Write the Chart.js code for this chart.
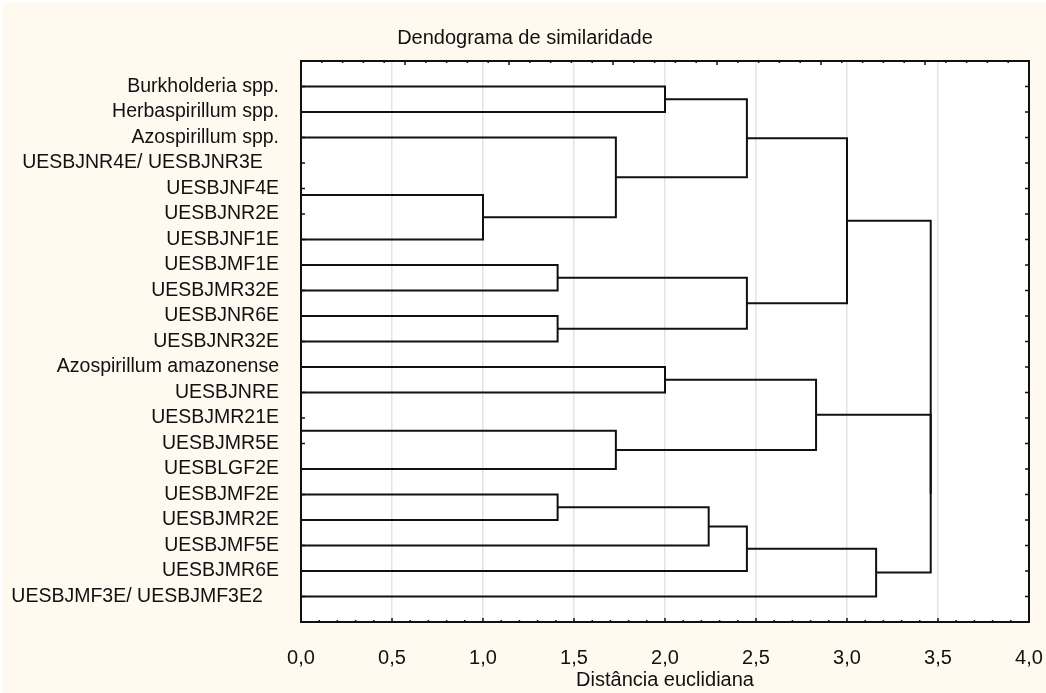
<!DOCTYPE html>
<html>
<head>
<meta charset="utf-8">
<script src="https://cdn.jsdelivr.net/npm/chart.js@4"></script>
<style>
  body { margin: 0; background: #ffffff; }
  #wrap { width: 1046px; height: 693px; }
</style>
</head>
<body>
<div id="wrap"><canvas id="dendro" width="1046" height="693"></canvas></div>
<script>
// Leaves, top to bottom (the two merged labels carry trailing blanks, as in the original)
const leafLabels = [
  'Burkholderia spp.', 'Herbaspirillum spp.', 'Azospirillum spp.',
  'UESBJNR4E/ UESBJNR3E   ', 'UESBJNF4E', 'UESBJNR2E', 'UESBJNF1E',
  'UESBJMF1E', 'UESBJMR32E', 'UESBJNR6E', 'UESBJNR32E',
  'Azospirillum amazonense', 'UESBJNRE', 'UESBJMR21E', 'UESBJMR5E',
  'UESBLGF2E', 'UESBJMF2E', 'UESBJMR2E', 'UESBJMF5E', 'UESBJMR6E',
  'UESBJMF3E/ UESBJMF3E2   '
];

// Linkage: merge i joins nodes mergeLeft[i] and mergeRight[i] at mergeHeight[i]
// nodes 0..20 are leaves, merge i creates node 21 + i
const mergeLeft   = [3, 21, 22, 2, 0, 25, 7, 9, 27, 26, 11, 13, 32, 31, 16, 35, 36, 37, 34, 30];
const mergeRight  = [4, 5, 6, 23, 1, 24, 8, 10, 28, 29, 12, 14, 15, 33, 17, 18, 19, 20, 38, 39];
const mergeHeight = [0, 0, 1.0, 1.73, 2.0, 2.45, 1.41, 1.41, 2.45, 3.0, 2.0, 0, 1.73, 2.83, 1.41, 2.24, 2.45, 3.16, 3.46, 3.46];

const xTicks = [0, 0.5, 1, 1.5, 2, 2.5, 3, 3.5, 4];

const FONT = "'Liberation Sans', Arial, sans-serif";
const INK = '#111111';

// position of each node: y = leaf row, x = merge height
const nodeY = leafLabels.map((_, i) => i + 1);
const nodeX = leafLabels.map(() => 0);
const links = [];
mergeLeft.forEach((a, i) => {
  const b = mergeRight[i], h = mergeHeight[i];
  links.push([
    { x: nodeX[a], y: nodeY[a] }, { x: h, y: nodeY[a] },
    { x: h, y: nodeY[b] }, { x: nodeX[b], y: nodeY[b] }
  ]);
  nodeY.push((nodeY[a] + nodeY[b]) / 2);
  nodeX.push(h);
});

const datasets = links.map(pts => ({
  data: pts,
  showLine: true,
  borderColor: INK,
  borderWidth: 2,
  pointRadius: 0,
  fill: false
}));

// background + frame with inner tick marks
const framePlugin = {
  id: 'frame',
  beforeDraw(chart) {
    const { ctx, chartArea: a } = chart;
    ctx.save();
    ctx.fillStyle = '#ffffff';
    ctx.fillRect(0, 0, chart.width, chart.height);
    ctx.fillStyle = '#fff9ef';
    ctx.fillRect(3, 3, chart.width - 3, chart.height - 3);
    ctx.fillStyle = '#ffffff';
    ctx.fillRect(a.left, a.top, a.right - a.left, a.bottom - a.top);
    ctx.restore();
  },
  afterDraw(chart) {
    const { ctx, chartArea: a, scales } = chart;
    ctx.save();
    ctx.strokeStyle = INK;
    ctx.lineWidth = 2;
    ctx.strokeRect(a.left, a.top, a.right - a.left, a.bottom - a.top);
    ctx.lineWidth = 1.5;
    ctx.beginPath();
    leafLabels.forEach((_, i) => {
      const y = scales.y.getPixelForValue(i + 1);
      ctx.moveTo(a.left, y); ctx.lineTo(a.left + 4, y);
      ctx.moveTo(a.right, y); ctx.lineTo(a.right - 4, y);
    });
    for (let k = 0; k <= 40; k++) {
      const x = scales.x.getPixelForValue(k / 10);
      ctx.moveTo(x, a.bottom); ctx.lineTo(x, a.bottom - (k % 5 === 0 ? 4 : 2));
    }
    for (let k = 0; k <= 35; k++) {
      const x = a.left + k * (a.right - a.left) / 35;
      ctx.moveTo(x, a.top); ctx.lineTo(x, a.top + (k % 5 === 0 ? 4 : 2));
    }
    ctx.stroke();
    ctx.restore();
  }
};

new Chart(document.getElementById('dendro'), {
  type: 'scatter',
  data: { datasets },
  plugins: [framePlugin],
  options: {
    responsive: false,
    animation: false,
    layout: { padding: { left: 4, right: 0, top: 0, bottom: 0 } },
    plugins: {
      legend: { display: false },
      tooltip: { enabled: false },
      title: {
        display: true,
        text: 'Dendograma de similaridade',
        color: INK,
        font: { family: FONT, size: 20, weight: 'normal' },
        padding: { top: 26, bottom: 11 }
      }
    },
    scales: {
      x: {
        type: 'linear',
        min: 0, max: 4,
        afterBuildTicks: s => { s.ticks = xTicks.map(v => ({ value: v })); },
        afterFit: s => { s.height = 71; s.paddingLeft = 0; s.paddingRight = 17; },
        grid: { color: '#e4e4e4', lineWidth: 1.5, drawTicks: false },
        border: { display: false },
        ticks: {
          color: INK,
          padding: 24,
          font: { family: FONT, size: 20 },
          callback: v => v.toFixed(1).replace('.', ',')
        },
        title: {
          display: true,
          text: 'Distância euclidiana',
          color: INK,
          font: { family: FONT, size: 20 },
          padding: { top: 0, bottom: 1 }
        }
      },
      y: {
        type: 'linear',
        reverse: true,
        min: 0, max: leafLabels.length + 1,
        afterBuildTicks: s => { s.ticks = leafLabels.map((_, i) => ({ value: i + 1 })); },
        afterFit: s => { s.width = 297; },
        grid: { display: false },
        border: { display: false },
        ticks: {
          color: INK,
          padding: 14,
          autoSkip: false,
          font: { family: FONT, size: 19.5 },
          callback: v => leafLabels[v - 1] || ''
        }
      }
    }
  }
});
</script>
</body>
</html>
